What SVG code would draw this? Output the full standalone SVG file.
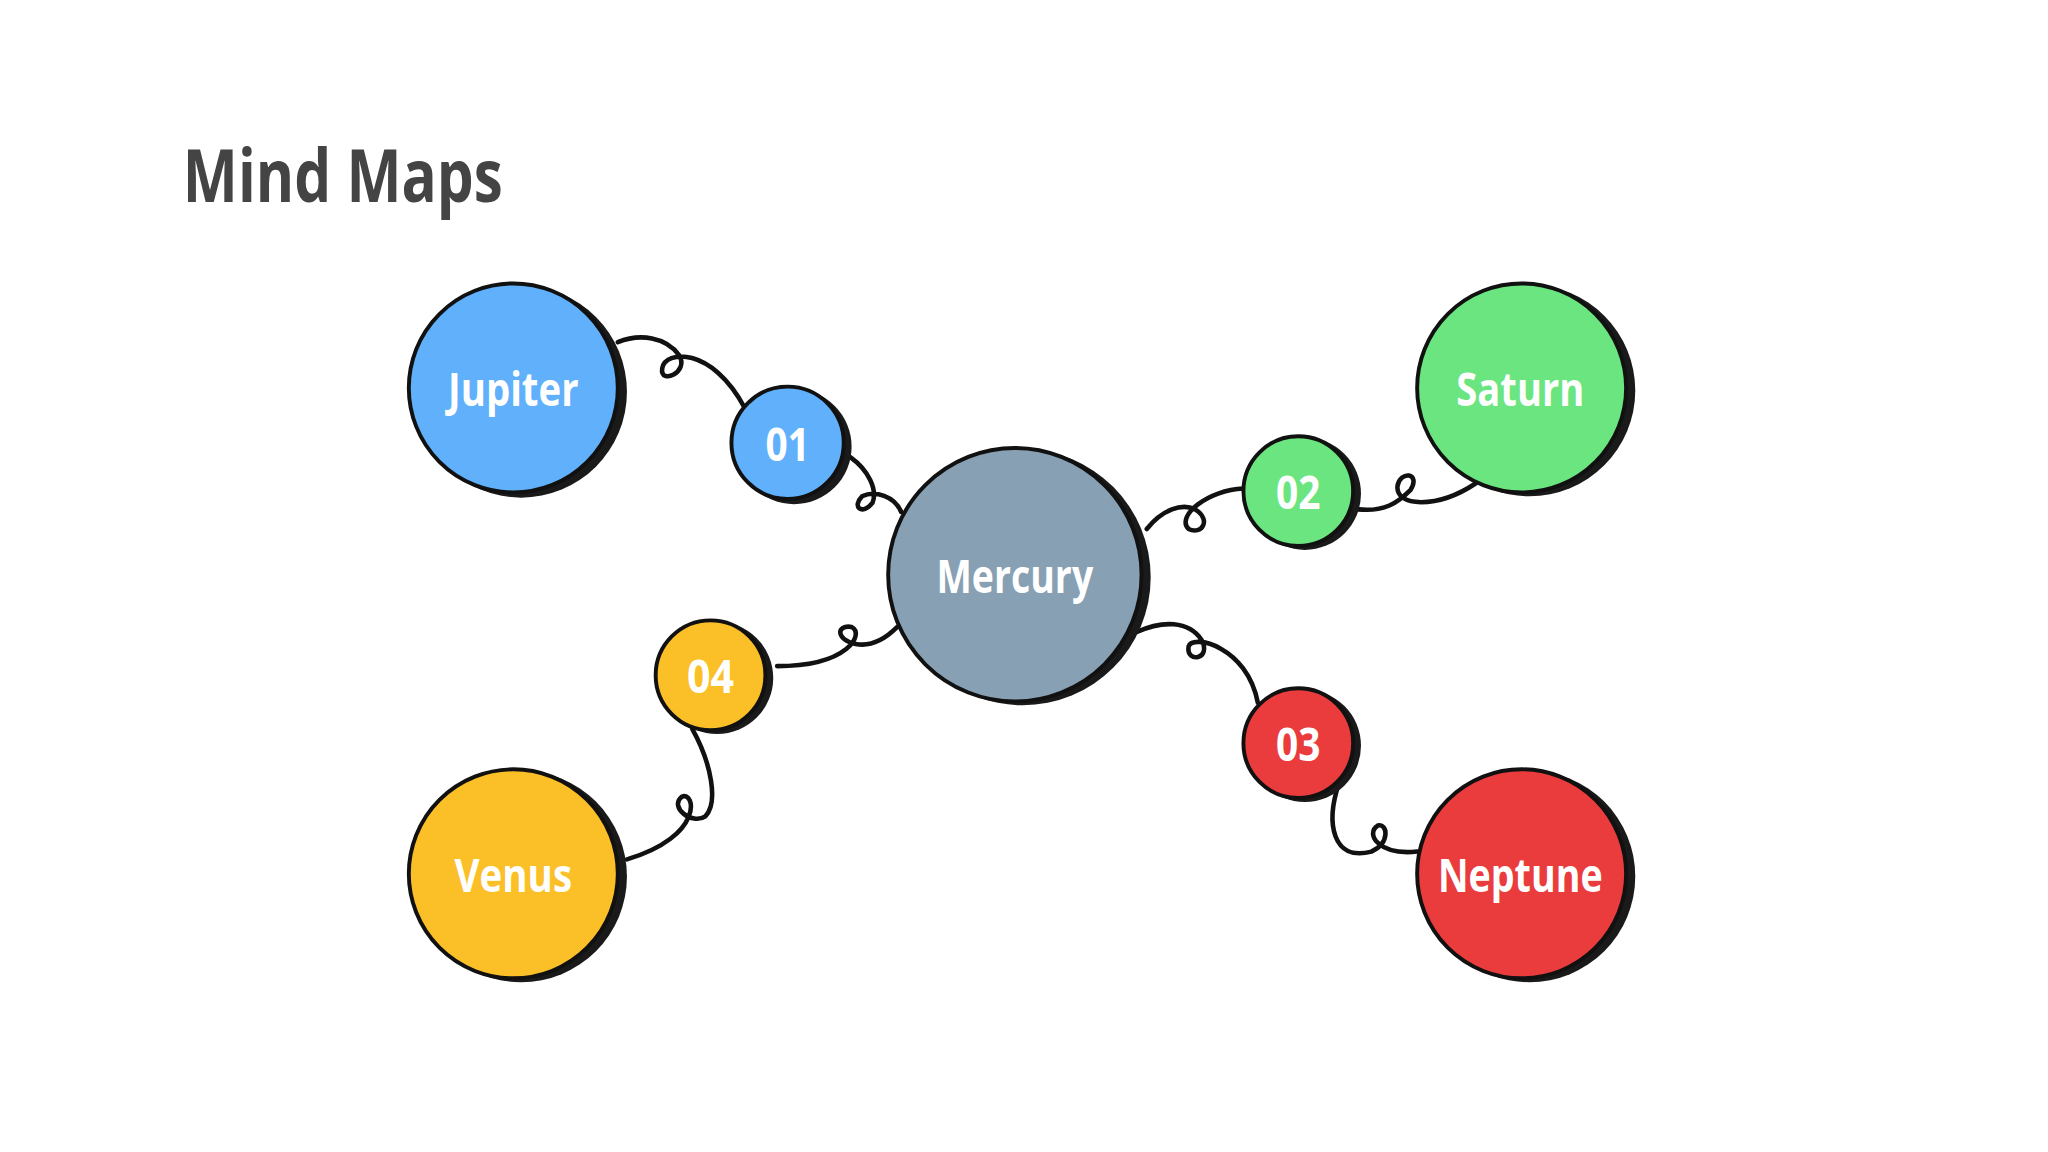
<svg xmlns="http://www.w3.org/2000/svg" width="2048" height="1152" viewBox="0 0 2048 1152">
<style>
.sh{fill:#1a1a1a}
.c{stroke:#111;stroke-width:3}
.t{font-family:"Open Sans","Liberation Sans",sans-serif;font-weight:700;fill:#fff;text-anchor:middle;dominant-baseline:central}
.ln{fill:none;stroke:#111;stroke-width:3.5;stroke-linecap:round}
</style>
<rect width="2048" height="1152" fill="#fff"/>
<g transform="scale(1.30612)">
<text x="140" y="155" font-family="Open Sans,Liberation Sans,sans-serif" font-weight="700" font-size="56" fill="#444" textLength="245" lengthAdjust="spacingAndGlyphs">Mind Maps</text>
<g id="connectors">
<path class="ln" d="M473,262 C490,255 510,258 520,272 C528,285 505,295 507,282 C509,268 545,265 570,312"/>
<path class="ln" d="M651,350 C665,360 672,375 668,385 C660,395 652,388 660,380 C670,375 685,380 690,392"/>
<path class="ln" d="M878,405 C890,390 905,385 915,390 C928,398 920,410 910,405 C900,395 925,375 952,374"/>
<path class="ln" d="M1040,390 C1060,392 1070,385 1080,375 C1088,362 1072,360 1070,372 C1068,388 1100,390 1130,370"/>
<path class="ln" d="M870,484 C890,475 910,475 920,490 C928,505 908,508 910,495 C913,485 955,495 963,538"/>
<path class="ln" d="M1025,600 C1015,630 1020,660 1050,652 C1065,645 1062,630 1055,632 C1045,638 1055,655 1085,652"/>
<path class="ln" d="M687,480 C675,492 665,495 655,493 C640,490 640,478 652,480 C662,485 650,510 595,510"/>
<path class="ln" d="M530,558 C545,585 550,615 540,625 C530,632 512,618 522,610 C532,605 540,640 480,658"/>
</g>
<g id="jupiter"><circle class="sh" cx="399" cy="300" r="81"/><circle class="c" cx="393" cy="297" r="80" fill="#60b0fb"/><text class="t" x="393" y="297" font-size="36" textLength="100" lengthAdjust="spacingAndGlyphs">Jupiter</text></g>
<g id="n01"><circle class="sh" cx="608" cy="342" r="44"/><circle class="c" cx="603" cy="339" r="43" fill="#60b0fb"/><text class="t" x="603" y="339" font-size="36" textLength="34" lengthAdjust="spacingAndGlyphs">01</text></g>
<g id="mercury"><circle class="sh" cx="783" cy="442" r="98"/><circle class="c" cx="777" cy="440" r="97" fill="#87a0b3"/><text class="t" x="777" y="440" font-size="36" textLength="120" lengthAdjust="spacingAndGlyphs">Mercury</text></g>
<g id="n02"><circle class="sh" cx="999" cy="378" r="43"/><circle class="c" cx="994" cy="376" r="42" fill="#6be57f"/><text class="t" x="994" y="376" font-size="36" textLength="34" lengthAdjust="spacingAndGlyphs">02</text></g>
<g id="saturn"><circle class="sh" cx="1171" cy="299" r="81"/><circle class="c" cx="1165" cy="297" r="80" fill="#6be57f"/><text class="t" x="1164" y="297" font-size="36" textLength="98" lengthAdjust="spacingAndGlyphs">Saturn</text></g>
<g id="n04"><circle class="sh" cx="549" cy="519" r="43"/><circle class="c" cx="544" cy="517" r="42" fill="#fbbf28"/><text class="t" x="544" y="517" font-size="36" textLength="36" lengthAdjust="spacingAndGlyphs">04</text></g>
<g id="venus"><circle class="sh" cx="399" cy="671" r="81"/><circle class="c" cx="393" cy="669" r="80" fill="#fbbf28"/><text class="t" x="393" y="669" font-size="36" textLength="90" lengthAdjust="spacingAndGlyphs">Venus</text></g>
<g id="n03"><circle class="sh" cx="999" cy="571" r="43"/><circle class="c" cx="994" cy="569" r="42" fill="#ea3c3c"/><text class="t" x="994" y="569" font-size="36" textLength="34" lengthAdjust="spacingAndGlyphs">03</text></g>
<g id="neptune"><circle class="sh" cx="1171" cy="671" r="81"/><circle class="c" cx="1165" cy="669" r="80" fill="#ea3c3c"/><text class="t" x="1164" y="669" font-size="36" textLength="126" lengthAdjust="spacingAndGlyphs">Neptune</text></g>
</g>
</svg>
